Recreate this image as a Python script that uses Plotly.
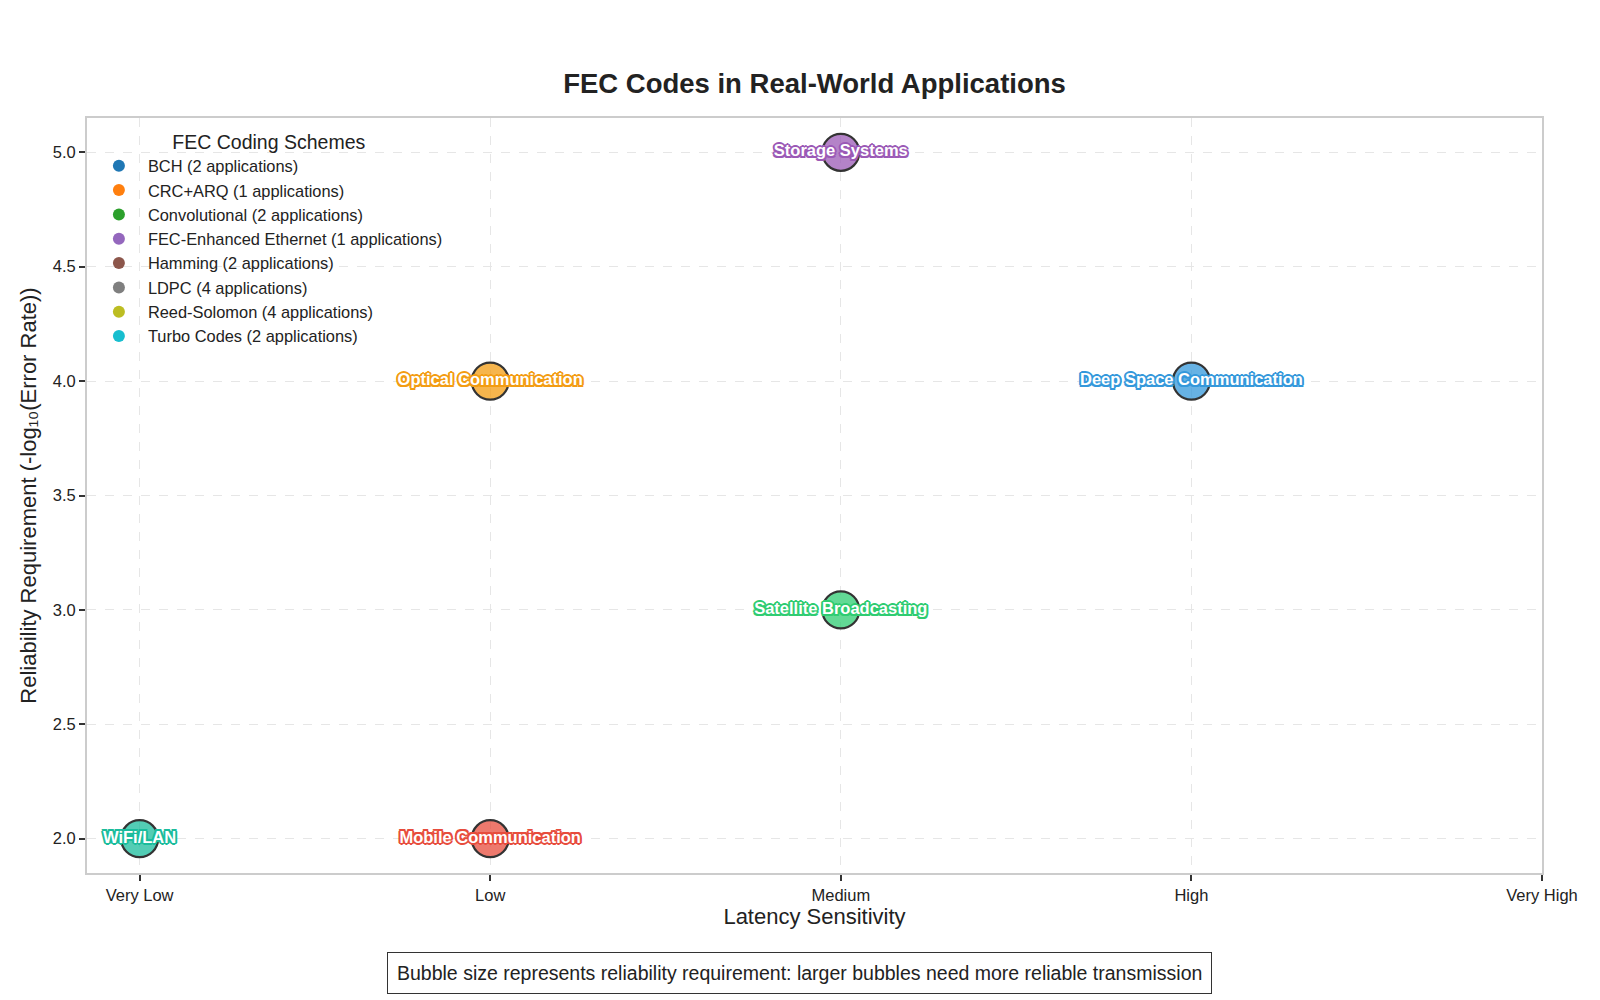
import plotly.graph_objects as go

# ---- data ----
latency_levels = ["Very Low", "Low", "Medium", "High", "Very High"]

applications = ["WiFi/LAN", "Mobile Communication", "Optical Communication",
                "Satellite Broadcasting", "Storage Systems", "Deep Space Communication"]
app_latency = ["Very Low", "Low", "Low", "Medium", "Medium", "High"]
app_reliability = [2.0, 2.0, 4.0, 3.0, 5.0, 4.0]
app_colors = ["#1abc9c", "#e74c3c", "#f39c12", "#2ecc71", "#9b59b6", "#3498db"]

schemes = ["BCH", "CRC+ARQ", "Convolutional", "FEC-Enhanced Ethernet",
           "Hamming", "LDPC", "Reed-Solomon", "Turbo Codes"]
scheme_counts = [2, 1, 2, 1, 2, 4, 4, 2]
scheme_colors = ["#1f77b4", "#ff7f0e", "#2ca02c", "#9467bd",
                 "#8c564b", "#7f7f7f", "#bcbd22", "#17becf"]

FONT = "Liberation Sans, Arial, sans-serif"


def rgba(hex_color, a):
    h = hex_color.lstrip("#")
    r, g, b = int(h[0:2], 16), int(h[2:4], 16), int(h[4:6], 16)
    return f"rgba({r},{g},{b},{a})"


fig = go.Figure()

# legend-only entries for schemes
for s, n, c in zip(schemes, scheme_counts, scheme_colors):
    fig.add_trace(go.Scatter(
        x=[None], y=[None], mode="markers",
        marker=dict(size=12, color=c),
        name=f"{s} ({n} applications)", showlegend=True))

# bubbles
for a, lx, r, c in zip(applications, app_latency, app_reliability, app_colors):
    xi = latency_levels.index(lx)
    outline = ", ".join(f"{dx}px {dy}px 0 {c}" for dx, dy in
                        [(-2, 0), (2, 0), (0, -2), (0, 2), (-1.5, -1.5), (1.5, -1.5), (-1.5, 1.5), (1.5, 1.5)])
    fig.add_trace(go.Scatter(
        x=[xi], y=[r], mode="markers+text",
        marker=dict(size=37, color=rgba(c, 0.75),
                    line=dict(color="#333333", width=2.2)),
        text=[a], textposition="middle center",
        textfont=dict(family=FONT, size=16.5, color="white", weight="bold", shadow=outline),
        showlegend=False, hoverinfo="text"))

fig.update_layout(
    width=1600, height=1000,
    paper_bgcolor="white", plot_bgcolor="white",
    font=dict(family=FONT, color="#222222"),
    margin=dict(l=87, r=58, t=118, b=127),
    title=dict(text="<b>FEC Codes in Real-World Applications</b>",
               x=0.5, xref="paper", xanchor="center", y=0.917, yanchor="middle",
               font=dict(size=27.5, family=FONT, color="#222222")),
    legend=dict(
        title=dict(text="FEC Coding Schemes", side="top center",
                   font=dict(size=19.5, family=FONT, color="#222222")),
        x=0.002, y=0.993, xanchor="left", yanchor="top",
        bgcolor="rgba(0,0,0,0)", borderwidth=0,
        font=dict(size=16.4, family=FONT, color="#222222"),
        itemsizing="constant", itemwidth=48, tracegroupgap=0),
    showlegend=True,
)

fig.update_xaxes(
    range=[-0.15, 4.0],
    tickmode="array", tickvals=list(range(len(latency_levels))), ticktext=latency_levels,
    ticks="outside", ticklen=6, tickwidth=1.5, tickcolor="#333333",
    tickfont=dict(size=16.5, color="#222222"),
    showgrid=True, gridcolor="#e6e6e6", griddash="dash", gridwidth=1,
    showline=True, linecolor="#cccccc", linewidth=2, mirror=True,
    zeroline=False,
    title=dict(text="Latency Sensitivity", font=dict(size=22, color="#222222"), standoff=6),
)
fig.update_yaxes(
    range=[1.85, 5.15],
    tickmode="array", tickvals=[2.0, 2.5, 3.0, 3.5, 4.0, 4.5, 5.0],
    ticktext=["2.0", "2.5", "3.0", "3.5", "4.0", "4.5", "5.0"],
    ticks="outside", ticklen=6, tickwidth=1.5, tickcolor="#333333",
    tickfont=dict(size=16.5, color="#222222"),
    showgrid=True, gridcolor="#e6e6e6", griddash="dash", gridwidth=1,
    showline=True, linecolor="#cccccc", linewidth=2, mirror=True,
    zeroline=False,
    title=dict(text="Reliability Requirement (-log₁₀(Error Rate))",
               font=dict(size=22, color="#222222"), standoff=10),
)

fig.add_annotation(
    text="Bubble size represents reliability requirement: larger bubbles need more reliable transmission",
    xref="paper", yref="paper", x=0.49, y=-0.133, xanchor="center", yanchor="middle",
    showarrow=False, font=dict(size=19.5, family=FONT, color="#222222"),
    bgcolor="white", bordercolor="#333333", borderwidth=1, borderpad=9,
)

fig.write_html("out.html")
